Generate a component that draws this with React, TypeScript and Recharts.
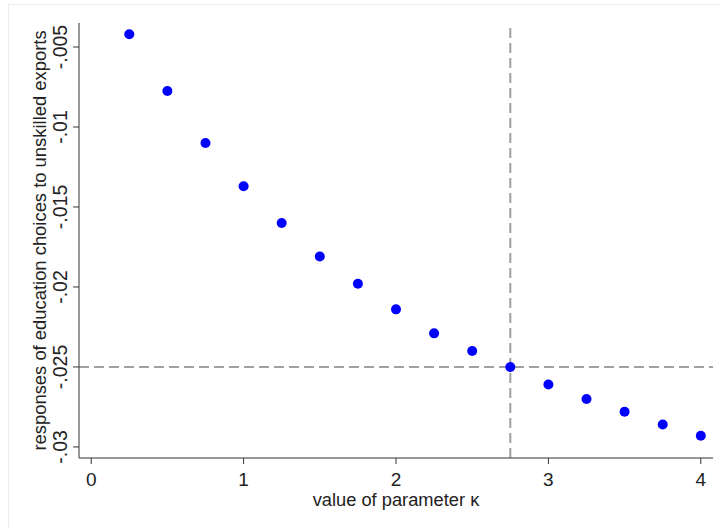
import {
  ScatterChart,
  Scatter,
  XAxis,
  YAxis,
  ReferenceLine,
} from 'recharts';

// kappa values on the x axis
const kappa = [0.25, 0.5, 0.75, 1, 1.25, 1.5, 1.75, 2, 2.25, 2.5, 2.75, 3, 3.25, 3.5, 3.75, 4];
// responses of education choices
const responses = [
  -0.0042, -0.00775, -0.011, -0.0137, -0.016, -0.0181, -0.0198, -0.0214,
  -0.0229, -0.024, -0.025, -0.0261, -0.0270, -0.0278, -0.0286, -0.0293,
];
const xTicks = [0, 1, 2, 3, 4];
const yTicks = [-0.03, -0.025, -0.02, -0.015, -0.01, -0.005];
const yTickLabels = ['-.03', '-.025', '-.02', '-.015', '-.01', '-.005'];
const refKappa = 2.75;
const refResponse = -0.025;

const data = kappa.map((k, i) => ({ k, r: responses[i] }));

const FONT = '"Liberation Sans", Arial, sans-serif';

const YTick = ({ y, payload }: any) => {
  const idx = yTicks.findIndex(t => Math.abs(t - payload.value) < 1e-9);
  return (
    <text
      x={67}
      y={y}
      transform={`rotate(-90, 67, ${y})`}
      textAnchor="middle"
      fill="#222"
      fontSize={19.5}
      fontFamily={FONT}
    >
      {idx >= 0 ? yTickLabels[idx] : payload.value}
    </text>
  );
};

const XTick = ({ x, payload }: any) => (
  <text x={x} y={486} textAnchor="middle" fill="#222" fontSize={19} fontFamily={FONT}>
    {payload.value}
  </text>
);

const Dot = ({ cx, cy }: any) => <circle cx={cx} cy={cy} r={5} fill="#0000ff" />;

// axis titles placed against the plot box
const XTitle = ({ viewBox }: any) => (
  <text
    x={viewBox.x + viewBox.width / 2}
    y={506}
    textAnchor="middle"
    fill="#222"
    fontSize={18.3}
    fontFamily={FONT}
  >
    value of parameter κ
  </text>
);

const YTitle = ({ viewBox }: any) => {
  const cy = viewBox.y + viewBox.height / 2;
  return (
    <text
      x={46}
      y={cy}
      transform={`rotate(-90, 46, ${cy})`}
      textAnchor="middle"
      fill="#222"
      fontSize={18.4}
      fontFamily={FONT}
    >
      responses of education choices to unskilled exports
    </text>
  );
};

export default function App() {
  return (
    <div style={{ position: 'absolute', left: 0, top: 0, width: 721, height: 529, background: '#fff' }}>
      <div
        style={{
          position: 'absolute',
          left: 8,
          top: 4,
          width: 713,
          height: 525,
          borderTop: '1px solid #ececec',
          borderLeft: '1px solid #ececec',
          boxSizing: 'border-box',
        }}
      />
      <ScatterChart
        width={721}
        height={529}
        margin={{ top: 23, right: 8, bottom: 0, left: 0 }}
        style={{ position: 'absolute', left: 0, top: 0 }}
      >
        <XAxis
          type="number"
          dataKey="k"
          domain={[-0.08, 4.08]}
          ticks={xTicks}
          allowDataOverflow
          height={71}
          tickSize={6}
          tick={<XTick />}
          stroke="#333"
          label={<XTitle />}
        />
        <YAxis
          type="number"
          dataKey="r"
          domain={[-0.03069, -0.0035]}
          ticks={yTicks}
          allowDataOverflow
          width={79}
          tickSize={6}
          tick={<YTick />}
          stroke="#333"
          label={<YTitle />}
        />
        <ReferenceLine x={refKappa} stroke="#a0a0a0" strokeWidth={2} strokeDasharray="10 5" />
        <ReferenceLine y={refResponse} stroke="#a0a0a0" strokeWidth={2} strokeDasharray="10 5" />
        <Scatter data={data} shape={<Dot />} isAnimationActive={false} />
      </ScatterChart>
    </div>
  );
}
